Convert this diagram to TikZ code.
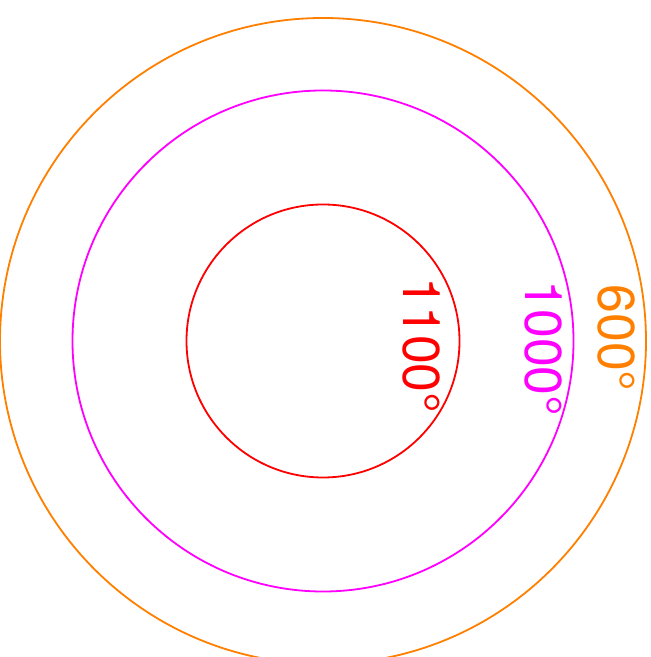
\documentclass[tikz,border=0pt]{standalone}
\usepackage{fontspec}
\setmainfont{TeX Gyre Heros}
\usetikzlibrary{positioning}
\definecolor{isoorange}{RGB}{255,128,0}
\definecolor{isomagenta}{RGB}{255,0,255}
\definecolor{isored}{RGB}{255,0,0}

\begin{document}
\begin{tikzpicture}[
  x=1bp, y=1bp,
  iso/.style={line width=1.8bp},
  lbl/.style={rotate=-90, inner sep=0pt, font=\fontsize{52}{62}\selectfont}
]
\useasboundingbox (0,0) rectangle (651,657);
\coordinate (c) at (323,316);
\draw[iso, isoorange] (c) circle (323);
\draw[iso, isomagenta] (c) circle (250.5);
\draw[iso, isored] (c) circle (136.5);
\node[lbl, text=isored] (t1100) at (421,311.5) {1100°};
\node[lbl, text=isomagenta] (t1000) at (543.5,308.5) {1000°};
\node[lbl, text=isoorange] (t600) at (616,319) {600°};
\end{tikzpicture}
\end{document}
